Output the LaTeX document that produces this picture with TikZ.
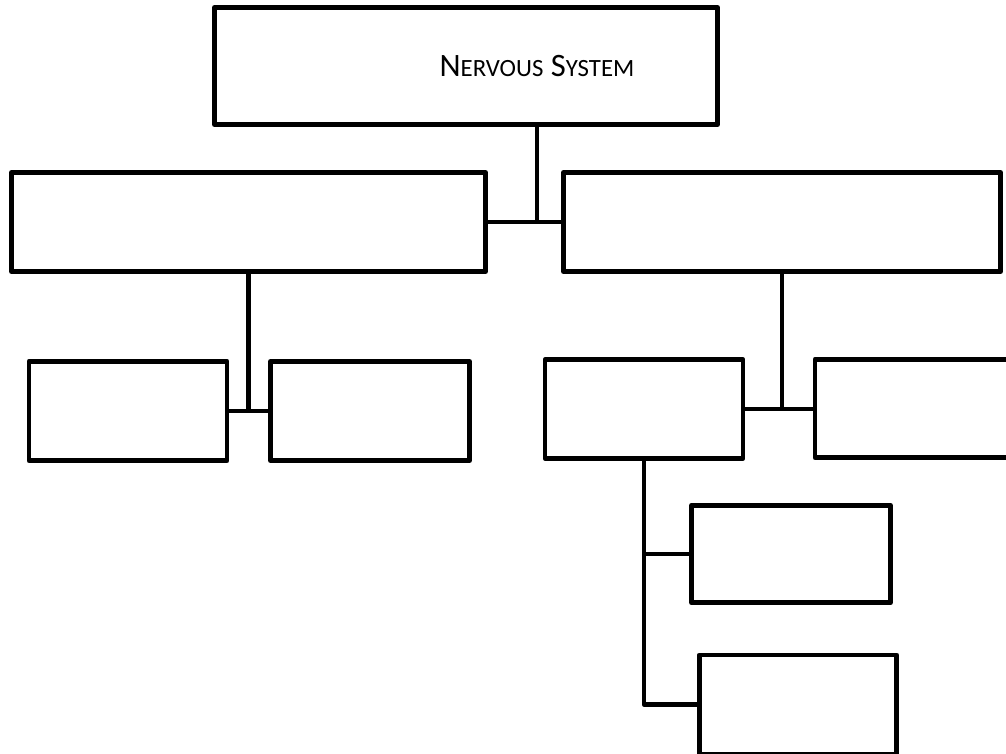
\documentclass[tikz,border=0pt]{standalone}
\usepackage{fontspec}
\setmainfont{Carlito}
\usepackage{tikz}
\newcommand{\bigsc}{\fontsize{24.5}{29}\selectfont}
\newcommand{\lowsc}{\fontsize{18.6}{22}\selectfont}

\begin{document}
\begin{tikzpicture}[
    x=0.75pt, y=-0.75pt,
    box/.style={rectangle, draw=black, fill=white, line width=3.7pt, line join=round,
        inner sep=0pt, minimum height=74.25pt},
    conn/.style={draw=black, line width=3.3pt, line join=round},
    ttl/.style={font=\bigsc, inner sep=0pt, text=black}
]
    \useasboundingbox (0,0) rectangle (1006,753);
    \clip (0,0) rectangle (1006,753);

    % top
    \node[box, minimum width=377.25pt, minimum height=87.75pt] (ns) at (466,66) {};
    \node[ttl] (title) at (537,66) {N{\lowsc ERVOUS} S{\lowsc YSTEM}};

    % second row
    \node[box, minimum width=355.5pt] (lft) at (248.5,222) {};
    \node[box, minimum width=327.75pt] (rgt) at (782,222) {};

    % left branch
    \node[box, minimum width=148.5pt] (la) at (128,411) {};
    \node[box, minimum width=149.25pt] (lb) at (370,411) {};

    % right branch
    \node[box, minimum width=148.5pt, minimum height=73.9pt] (ra) at (644,409) {};
    \node[box, minimum width=148.5pt, minimum height=73.5pt] (rb) at (914,408.5) {};

    % under ra
    \node[box, minimum width=149.25pt, minimum height=73.1pt] (rc) at (791,554) {};
    \node[box, minimum width=147.75pt] (rd) at (798,704.5) {};

    % connectors
    \draw[conn] (title |- ns.south) -- (title |- lft.east);
    \draw[conn] (lft) -- (rgt);
    \draw[conn] (lft.south) -- (lft.south |- la.east);
    \draw[conn] (la) -- (lb);
    \draw[conn] (rgt.south) -- (rgt.south |- ra.east);
    \draw[conn] (ra.east) -- (rb.west |- ra.east);
    \draw[conn] (ra.south) |- (rd.west);
    \draw[conn] (ra.south |- rc.west) -- (rc.west);
\end{tikzpicture}
\end{document}
